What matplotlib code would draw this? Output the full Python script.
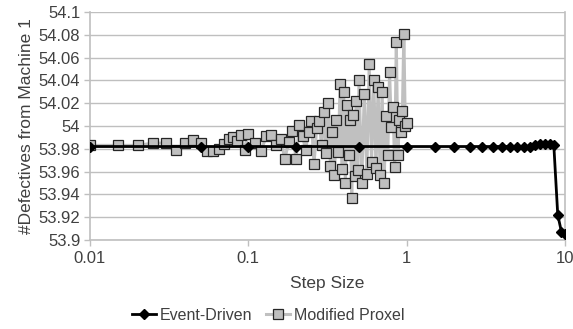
import matplotlib
matplotlib.use("Agg")
import matplotlib.pyplot as plt
from matplotlib.ticker import FixedLocator, NullLocator

plt.rcParams['font.family'] = ['Liberation Sans', 'DejaVu Sans']

# Event-Driven series
ed_x = [0.01, 0.05, 0.1, 0.2, 0.5, 1, 1.5, 2, 2.5, 3, 3.5, 4, 4.5, 5, 5.5, 6,
        6.5, 7, 7.5, 8, 8.5, 9, 9.5, 10]
ed_y = [53.982, 53.982, 53.982, 53.982, 53.982, 53.982, 53.982, 53.982, 53.982,
        53.982, 53.982, 53.982, 53.982, 53.982, 53.982, 53.982, 53.983, 53.984,
        53.984, 53.984, 53.983, 53.922, 53.907, 53.905]

# Modified Proxel series
mp_x = [0.010, 0.015, 0.020, 0.025, 0.030, 0.035, 0.040, 0.045, 0.050, 0.055,
        0.060, 0.065, 0.070, 0.075, 0.080, 0.085, 0.090, 0.095,
        0.10, 0.11, 0.12, 0.13, 0.14, 0.15, 0.16, 0.17, 0.18, 0.19,
        0.20, 0.21, 0.22, 0.23, 0.24, 0.25, 0.26, 0.27, 0.28, 0.29,
        0.30, 0.31, 0.32, 0.33, 0.34, 0.35, 0.36, 0.37, 0.38, 0.39,
        0.40, 0.41, 0.42, 0.43, 0.44, 0.45, 0.46, 0.47, 0.48, 0.49, 0.50,
        0.52, 0.54, 0.56, 0.58, 0.60, 0.62, 0.64, 0.66, 0.68, 0.70,
        0.72, 0.74, 0.76, 0.78, 0.80, 0.82, 0.84, 0.86, 0.88, 0.90,
        0.92, 0.94, 0.96, 0.98, 1.00]
mp_y = [53.983, 53.983, 53.983, 53.985, 53.985, 53.979, 53.985, 53.988, 53.985, 53.978,
        53.978, 53.980, 53.984, 53.989, 53.990, 53.987, 53.992, 53.979,
        53.993, 53.985, 53.978, 53.991, 53.992, 53.983, 53.989, 53.971, 53.986, 53.996,
        53.971, 54.001, 53.991, 53.979, 53.995, 54.004, 53.967, 53.998, 54.004, 53.983,
        54.012, 53.976, 54.020, 53.965, 53.995, 53.957, 54.005, 53.977, 54.037, 53.962,
        54.030, 53.950, 54.018, 53.975, 54.005, 53.937, 54.010, 53.956, 54.022, 53.961, 54.040,
        53.950, 54.028, 53.958, 54.054, 53.968, 54.040, 53.963, 54.034, 53.957, 54.030,
        53.950, 54.009, 53.975, 54.047, 53.999, 54.017, 53.964, 54.074, 53.975, 54.005,
        53.995, 54.013, 54.081, 54.000, 54.003]

y_ticks = [53.9, 53.92, 53.94, 53.96, 53.98, 54, 54.02, 54.04, 54.06, 54.08, 54.1]
y_labels = ["53.9", "53.92", "53.94", "53.96", "53.98", "54", "54.02", "54.04",
            "54.06", "54.08", "54.1"]
x_ticks = [0.01, 0.1, 1, 10]
x_labels = ["0.01", "0.1", "1", "10"]

txt = '#404040'
grid = '#bfbfbf'

fig = plt.figure(figsize=(5.73, 3.29), dpi=100)
ax = fig.add_axes([90/573, 1 - 240/329, (565-90)/573, (240-12)/329])

ax.plot(mp_x, mp_y, color='#c0c0c0', lw=2.2, marker='s', markersize=7.5,
        markerfacecolor='#bfbfbf', markeredgecolor='#262626', markeredgewidth=0.9,
        label='Modified Proxel', zorder=3)
ax.plot(ed_x, ed_y, color='black', lw=2.0, marker='D', markersize=5,
        markerfacecolor='black', markeredgecolor='black',
        label='Event-Driven', zorder=4)

ax.set_xscale('log')
ax.set_xlim(0.01, 10)
ax.set_ylim(53.9, 54.1)
ax.xaxis.set_major_locator(FixedLocator(x_ticks))
ax.xaxis.set_minor_locator(NullLocator())
ax.set_xticklabels(x_labels)
ax.set_yticks(y_ticks)
ax.set_yticklabels(y_labels)

ax.grid(axis='y', color=grid, lw=1.0, zorder=0)
ax.set_axisbelow(True)
ax.spines['top'].set_visible(False)
for s in ['left', 'bottom', 'right']:
    ax.spines[s].set_color(grid)
    ax.spines[s].set_linewidth(1.2)
ax.tick_params(axis='both', colors=grid, labelcolor=txt, labelsize=12,
               length=4, width=1.0)
ax.tick_params(axis='x', pad=4)
ax.tick_params(axis='y', pad=3)

ax.set_xlabel('Step Size', fontsize=12.5, color=txt, labelpad=7)
ax.set_ylabel('#Defectives from Machine 1', fontsize=12.5, color=txt, labelpad=3)

h, l = ax.get_legend_handles_labels()
fig.legend(h[::-1], l[::-1], loc='center', bbox_to_anchor=(0.468, 1 - 315/329),
           ncol=2, frameon=False, fontsize=11.5, labelcolor=txt,
           handlelength=1.5, handletextpad=0.2, columnspacing=0.9)

fig.savefig('out.png', dpi=100)
